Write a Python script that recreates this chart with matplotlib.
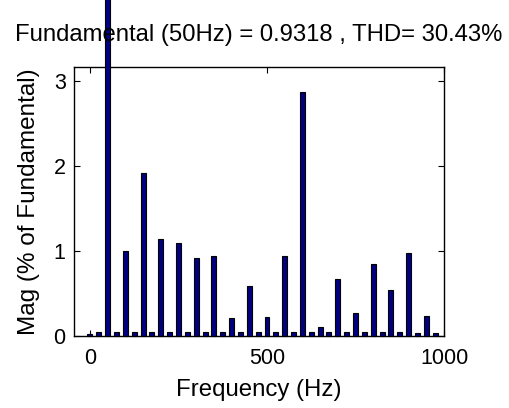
import numpy as np
import matplotlib
matplotlib.use("Agg")
import matplotlib.pyplot as plt

# --- dados ---
freqs = np.arange(0, 1000, 25)  # 0, 25, ..., 975 Hz
mags = [0.02, 0.05, 100.0, 0.05, 1.00, 0.05, 1.91, 0.05, 1.14, 0.05,
        1.09, 0.05, 0.92, 0.05, 0.94, 0.05, 0.21, 0.05, 0.59, 0.05,
        0.22, 0.05, 0.94, 0.05, 2.87, 0.05, 0.10, 0.05, 0.67, 0.05,
        0.27, 0.05, 0.85, 0.05, 0.54, 0.05, 0.98, 0.03, 0.23, 0.03]
titulo = "Fundamental (50Hz) = 0.9318 , THD= 30.43%"
xticks = [0, 500, 1000]
yticks = [0, 1, 2, 3]

plt.rcParams['font.family'] = ['Liberation Sans', 'DejaVu Sans']

fig = plt.figure(figsize=(5.09, 4.08), dpi=100)
ax = fig.add_axes([0.1454, 0.1765, 0.727, 0.659])

# a fundamental (100%) passa do topo do eixo, como no original
ax.bar(freqs, mags, width=14, color='#000080', edgecolor='black',
       linewidth=0.8, clip_on=False, zorder=3)

ax.set_xlim(-45, 1000)
ax.set_ylim(0, 3.16)
ax.set_xticks(xticks)
ax.set_yticks(yticks)
ax.tick_params(direction='in', length=4, width=0.8, top=True, right=True,
               labelsize=15.5)
ax.tick_params(axis='x', pad=9)
ax.tick_params(axis='y', pad=6)
for s in ax.spines.values():
    s.set_linewidth(1.0)

ax.set_xlabel("Frequency (Hz)", fontsize=17.3, labelpad=7)
ax.set_ylabel("Mag (% of Fundamental)", fontsize=17.5, labelpad=10)
ax.set_title(titulo, fontsize=17.2, pad=19)

fig.savefig("out.png", dpi=100)
